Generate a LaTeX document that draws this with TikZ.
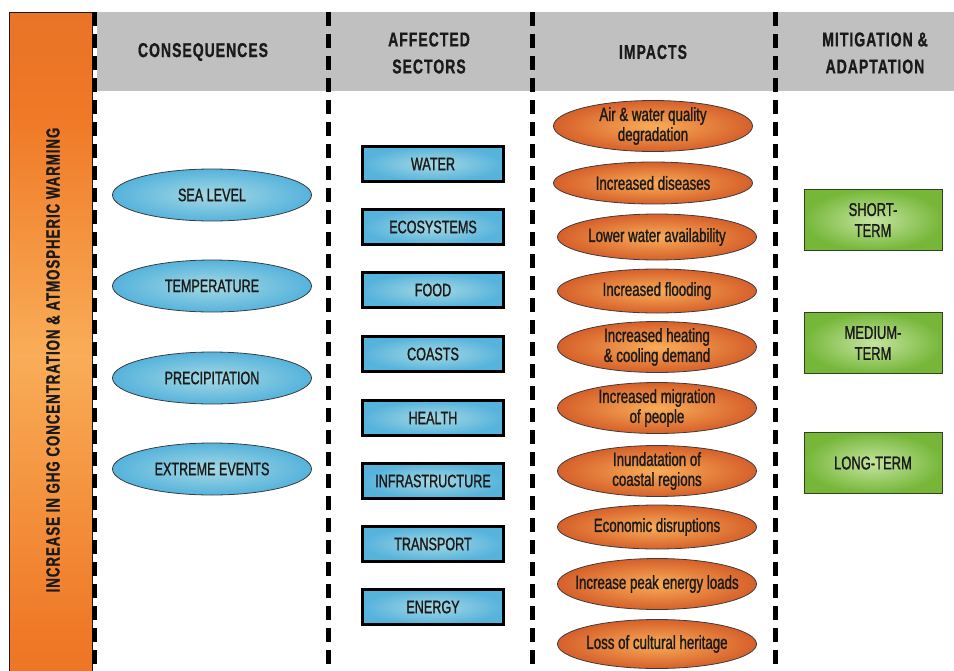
\documentclass[tikz,border=0pt]{standalone}
\usepackage{fontspec}
\setmainfont{Liberation Sans}[FakeStretch=0.7,FakeBold=1.2]
\newfontfamily\headfont{Liberation Sans}[FakeStretch=0.7,LetterSpace=5,FakeBold=0.8]
\usetikzlibrary{shapes.geometric}
\definecolor{hdgrey}{HTML}{C0C0C0}
\definecolor{bluedark}{HTML}{55B3DC}
\definecolor{bluelight}{HTML}{A6D8E4}
\definecolor{orgdark}{HTML}{D6602A}
\definecolor{orgmid}{HTML}{EF7926}
\definecolor{orglight}{HTML}{F9AD58}
\definecolor{grndark}{HTML}{76B73A}
\definecolor{grnlight}{HTML}{C6E4A0}
\definecolor{ink}{HTML}{1A1A1A}
\pgfdeclareverticalshading{barshade}{100bp}{color(0bp)=(orgdark); color(28bp)=(orgmid);
  color(49bp)=(orglight); color(67bp)=(orgmid); color(100bp)=(orgdark)}
\begin{document}
\begin{tikzpicture}[x=1pt,y=-1pt,
  every node/.style={text=ink},
  head/.style={font=\headfont\bfseries\fontsize{20}{27}\selectfont,align=center},
  cons/.style={ellipse,draw=ink!85,line width=.8pt,inner color=bluelight,outer color=bluedark,
    minimum width=199pt,minimum height=52pt,inner xsep=-20pt,inner ysep=0pt,
    font=\fontsize{18}{20}\selectfont},
  sector/.style={rectangle,draw=black,line width=2.5pt,inner color=bluelight,outer color=bluedark,
    minimum width=141pt,minimum height=35pt,inner sep=0pt,font=\fontsize{18}{20}\selectfont},
  impact/.style={ellipse,draw=ink!85,line width=.8pt,inner color=orglight,outer color=orgdark,
    minimum width=199pt,minimum height=#1,inner xsep=-30pt,inner ysep=-4pt,align=center,
    font=\fontsize{19}{20}\selectfont},
  impact/.default=51pt,
  term/.style={rectangle,draw=ink!75!grndark,line width=1pt,inner color=grnlight,outer color=grndark,
    minimum width=138pt,minimum height=61pt,inner sep=0pt,align=center,font=\fontsize{18.5}{21}\selectfont},
  colsep/.style={line width=5pt,dash pattern=on 14pt off 8pt}]
\useasboundingbox (0,0) rectangle (954,670);
% background bands
\fill[hdgrey] (97,12) rectangle (954,91);
\draw[ink,line width=.8pt,shading=barshade] (9,12) rectangle (92,671);
\node[rotate=90,font=\headfont\bfseries\fontsize{19}{20}\selectfont] (trend) at (53,360)
  {INCREASE IN GHG CONCENTRATION \& ATMOSPHERIC WARMING};
% column separators
\draw[colsep] (94,12) -- (94,670);
\draw[colsep] (328,12) -- (328,670);
\draw[colsep] (532,12) -- (532,670);
\draw[colsep] (775,12) -- (775,670);
% headers
\node[head] (hcons) at (203,52) {CONSEQUENCES};
\node[head] (hsect) at (429,53) {AFFECTED\\SECTORS};
\node[head] (himp) at (653,52) {IMPACTS};
\node[head] (hmit) at (875,53) {MITIGATION \&\\ADAPTATION};
% consequences
\node[cons] (sea) at (212,195) {SEA LEVEL};
\node[cons] (temp) at (212,286) {TEMPERATURE};
\node[cons] (prec) at (212,378) {PRECIPITATION};
\node[cons] (extr) at (212,469) {EXTREME EVENTS};
% sectors
\node[sector] (water) at (433,164) {WATER};
\node[sector] (eco) at (433,227) {ECOSYSTEMS};
\node[sector] (food) at (433,290) {FOOD};
\node[sector] (coast) at (433,354) {COASTS};
\node[sector] (health) at (433,418) {HEALTH};
\node[sector] (infra) at (433,481) {INFRASTRUCTURE};
\node[sector] (trans) at (433,544) {TRANSPORT};
\node[sector] (energy) at (433,607) {ENERGY};
% impacts
\node[impact] (quality) at (653,126) {Air \& water quality\\degradation};
\node[impact=42pt] (disease) at (653,183) {Increased diseases};
\node[impact=46pt] (avail) at (657,237) {Lower water availability};
\node[impact=44pt] (flood) at (657,291) {Increased flooding};
\node[impact] (heat) at (657,347) {Increased heating\\\& cooling demand};
\node[impact] (migr) at (657,408) {Increased migration\\of people};
\node[impact] (inund) at (657,471) {Inundatation of\\coastal regions};
\node[impact=44pt] (econ) at (657,527) {Economic disruptions};
\node[impact] (peak) at (657,584) {Increase peak energy loads};
\node[impact=49pt] (herit) at (657,644) {Loss of cultural heritage};
% mitigation and adaptation
\node[term] (short) at (873,220) {SHORT-\\TERM};
\node[term] (medium) at (873,343) {MEDIUM-\\TERM};
\node[term] (long) at (873,463) {LONG-TERM};
\end{tikzpicture}
\end{document}
